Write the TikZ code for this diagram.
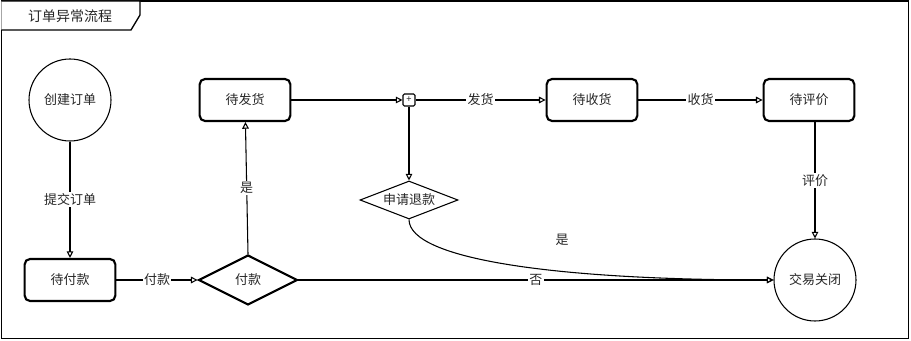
\documentclass[tikz,border=0pt]{standalone}
\usepackage{fontspec}
\newfontfamily\cjk{Noto Sans CJK SC}
\usetikzlibrary{shapes.geometric,arrows.meta}

\begin{document}
\begin{tikzpicture}[x=0.75pt, y=-0.75pt,
  every node/.style={font=\cjk\fontsize{9.75}{12}\selectfont, text=black!85},
  state/.style={draw, line width=1.6pt, rounded corners=4pt, minimum width=68pt, minimum height=31.5pt},
  ends/.style={draw, circle, line width=0.8pt, inner sep=0pt},
  choice/.style={draw, diamond, line width=1.6pt, inner sep=0pt, shape aspect=2},
  lbl/.style={fill=white, inner sep=1pt},
  arr/.style={-{Triangle[open, length=5pt, width=5pt]}, line width=0.8pt}]

\useasboundingbox (0,0) rectangle (911,341);
\draw [line width=1pt] (1.5,1) rectangle (908.5,338.5);

% title tab
\draw [line width=1pt, fill=white] (1.5,1) -- (140,1) -- (140,15) -- (131,30) -- (1.5,30);
\node [font=\cjk\fontsize{10.5}{12}\selectfont] (title) at (70,16) {订单异常流程};

\node [ends, minimum size=61.5pt] (create) at (70,100) {创建订单};
\node [state] (topay)  at (70,280)  {待付款};
\node [choice, minimum width=74pt, minimum height=37.5pt] (pay) at (248,280) {付款};
\node [state] (toship) at (245,100) {待发货};
\node [draw, line width=0.8pt, rounded corners=1pt, minimum size=9pt, inner sep=0pt,
       font=\cjk\fontsize{7}{8}\selectfont] (fork) at (409,100) {+};
\node [state] (torecv) at (592,100) {待收货};
\node [state] (torate) at (809,100) {待评价};
\node [choice, line width=0.8pt, shape aspect=2.6, minimum width=73.5pt, minimum height=28.5pt] (refund) at (409,200) {申请退款};
\node [ends, minimum size=61.5pt] (close) at (815,280) {交易关闭};

\node (yes2) at (562,240) {是};

\begin{scope}[arr]
\draw (create) -- node [lbl] {提交订单} (topay);
\draw (topay) -- node [lbl] {付款} (pay);
\draw (pay.north) -- node [lbl] {是} (toship);
\draw (toship) -- (fork);
\draw (fork) -- node [lbl] {发货} (torecv);
\draw (torecv) -- node [lbl] {收货} (torate);
\draw (close |- torate.south) -- node [lbl] {评价} (close.north);
\draw (fork) -- (refund);
\draw (pay.east) -- node [lbl] {否} (close.west);
\draw (refund.south) .. controls +(0,40) and +(-216,0) .. (close.west);
\end{scope}

\end{tikzpicture}
\end{document}
